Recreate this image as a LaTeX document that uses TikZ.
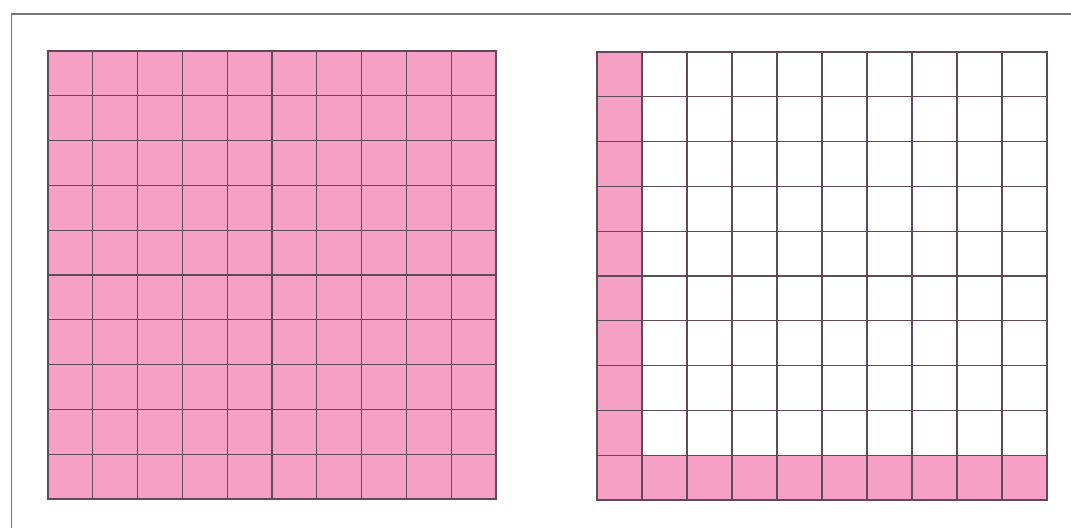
\documentclass[tikz,border=0pt]{standalone}
\definecolor{cellpink}{RGB}{246,160,197}
\definecolor{gridline}{RGB}{95,75,88}
\definecolor{framegray}{RGB}{120,120,120}
\begin{document}
\begin{tikzpicture}[x=1pt,y=-1pt,
  gridlines/.style={draw=gridline,line width=1.1pt},
  gridborder/.style={draw=gridline,line width=1.5pt},
  frameline/.style={draw=framegray,line width=1.8pt},
  pinkfill/.style={fill=cellpink}]
\useasboundingbox (0,0) rectangle (1071,528);
\fill[white] (0,0) rectangle (1071,528);
% outer frame (top and left edges)
\draw[frameline] (1071,14) -- (11.5,14) -- (11.5,528);
% left grid: all pink
\begin{scope}[shift={(48,51)},x=44.8pt,y=-44.8pt]
  \fill[pinkfill] (0,0) rectangle (10,10);
  \foreach \i in {1,...,9} {
    \draw[gridlines] (\i,0) -- (\i,10);
    \draw[gridlines] (0,\i) -- (10,\i);
  }
  \draw[gridborder] (0,0) rectangle (10,10);
\end{scope}
% right grid: first column and bottom row pink
\begin{scope}[shift={(597,52)},x=45pt,y=-44.8pt]
  \fill[pinkfill] (0,0) rectangle (1,10);
  \fill[pinkfill] (0,9) rectangle (10,10);
  \foreach \i in {1,...,9} {
    \draw[gridlines] (\i,0) -- (\i,10);
    \draw[gridlines] (0,\i) -- (10,\i);
  }
  \draw[gridborder] (0,0) rectangle (10,10);
\end{scope}
\end{tikzpicture}
\end{document}
